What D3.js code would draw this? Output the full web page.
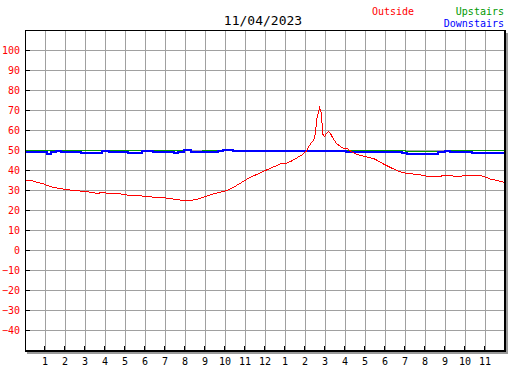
<!DOCTYPE html>
<html><head><meta charset="utf-8">
<script src="https://cdn.jsdelivr.net/npm/d3@7"></script>
<style>body{margin:0;background:#fff} svg{display:block}</style>
</head><body><svg id="c" width="527" height="370"></svg>
<script>
const title = "11/04/2023";
const seriesNames = ["Outside", "Upstairs", "Downstairs"];
const seriesColors = ["#ff0000", "#009900", "#0000ff"];
const xTickHours = [1,2,3,4,5,6,7,8,9,10,11,12,13,14,15,16,17,18,19,20,21,22,23];
const xTickLabels = ["1","2","3","4","5","6","7","8","9","10","11","12","1","2","3","4","5","6","7","8","9","10","11"];
const yTicks = [100,90,80,70,60,50,40,30,20,10,0,-10,-20,-30,-40];

const outsideHours = [0,0.3,0.55,0.85,1.1,1.35,1.6,1.85,2.25,2.65,3.0,3.35,3.6,3.8,4.05,4.4,4.75,5.1,5.5,5.9,6.25,6.55,6.75,7.0,7.35,7.75,8.15,8.45,8.65,8.9,9.15,9.45,9.75,10.05,10.3,10.55,10.8,11.1,11.4,11.75,12.1,12.45,12.75,13.1,13.35,13.6,13.85,14.05,14.2,14.3,14.4,14.5,14.55,14.63,14.7,14.78,14.83,14.88,14.95,15.05,15.15,15.25,15.35,15.45,15.55,15.7,15.85,16.1,16.25,16.5,16.75,17.1,17.4,17.6,17.85,18.15,18.5,18.75,19.0,19.4,19.75,20.0,20.4,20.85,21.25,21.65,21.9,22.75,23.0,23.25,23.6,23.95];
const outsideTemps = [35,35,34.2,33.5,32.5,31.7,31.2,30.8,30.2,29.8,29.5,29,28.5,29,28.7,28.3,28.3,27.7,27.5,27.2,26.8,26.5,26.7,26.3,25.8,25.2,25,25.3,25.8,26.7,27.5,28.5,29.2,30,31,32.5,34,35.8,37.3,38.8,40.5,42,43.3,43.8,45,46.5,48,49.8,52.5,54,55,58.5,65,68.5,71.5,69,63,57.5,57,58.5,59.5,58.5,56.5,55,53.5,52.3,51.3,51,49.7,48.3,47.5,46.7,46,45,43.5,42,40.3,39.3,38.7,38.2,37.8,37.3,36.8,37.3,37.5,36.8,37.5,37.5,36.7,35.7,35,34];

const upstairsHours = [0,8.25,8.85,19.0,21.0,24];
const upstairsTemps = [50,49.6,50,49.6,50,50];

const downstairsHours = [0,1.05,1.25,1.5,1.75,2.75,3.8,4.15,5.1,5.8,6.35,7.4,7.6,7.9,8.25,9.6,9.85,10.35,16.0,18.8,19.05,20.6,20.95,21.2,22.3,22.55,24];
const downstairsTemps = [49.1,48.5,49.1,50,49.2,48.7,50,49.2,48.7,50,49.3,48.9,49.3,50.4,49.5,49.8,50.4,49.7,49.1,48.8,48.5,49.2,50,49.3,48.7,48.9,48.9];

const FONT = "'DejaVu Sans Mono', monospace";
const svg = d3.select("#c");
const x = d3.scaleLinear().domain([0, 24]).range([25.5, 505.5]);
const y = d3.scaleLinear().domain([-50, 110]).range([350.5, 30.5]);

// shadow
svg.append("rect").attr("x", 506).attr("y", 33).attr("width", 2).attr("height", 321).attr("fill", "#999");
svg.append("rect").attr("x", 27).attr("y", 352).attr("width", 481).attr("height", 2).attr("fill", "#999");

const grid = svg.append("g").attr("stroke", "#a0a0a0").attr("stroke-width", 1).attr("shape-rendering", "crispEdges");
grid.selectAll("line.v").data(xTickHours).join("line")
  .attr("x1", d => x(d)).attr("x2", d => x(d)).attr("y1", 30).attr("y2", 350);
grid.selectAll("line.h").data(yTicks).join("line")
  .attr("y1", d => y(d)).attr("y2", d => y(d)).attr("x1", 25).attr("x2", 505);

// ticks
const tk = svg.append("g").attr("stroke", "#000").attr("shape-rendering", "crispEdges");
tk.selectAll("line.l").data(yTicks).join("line")
  .attr("x1", 25).attr("x2", 30).attr("y1", d => y(d)).attr("y2", d => y(d));
tk.selectAll("line.b").data(xTickHours).join("line")
  .attr("x1", d => x(d) - 1).attr("x2", d => x(d) - 1).attr("y1", 346).attr("y2", 350);

// series
const line = (curve) => d3.line().x(d => x(d[0])).y(d => y(d[1])).curve(curve);
const zip = (a, b) => a.map((v, i) => [v, b[i]]);
svg.append("path").datum(zip(upstairsHours, upstairsTemps))
  .attr("d", line(d3.curveStepAfter)).attr("fill", "none").attr("stroke", seriesColors[1])
  .attr("stroke-width", 1).attr("shape-rendering", "crispEdges");
svg.append("path").datum(zip(downstairsHours, downstairsTemps))
  .attr("d", line(d3.curveStepAfter)).attr("fill", "none").attr("stroke", seriesColors[2])
  .attr("stroke-width", 2).attr("shape-rendering", "crispEdges");
svg.append("path").datum(zip(outsideHours, outsideTemps))
  .attr("d", line(d3.curveLinear)).attr("fill", "none").attr("stroke", seriesColors[0])
  .attr("stroke-width", 1).attr("shape-rendering", "crispEdges");

// frame
const fr = svg.append("g").attr("stroke", "#000").attr("shape-rendering", "crispEdges");
fr.append("line").attr("x1", 25).attr("x2", 506).attr("y1", 30.5).attr("y2", 30.5);
fr.append("line").attr("x1", 25.5).attr("x2", 25.5).attr("y1", 30).attr("y2", 352);
fr.append("line").attr("x1", 25).attr("x2", 506).attr("y1", 351).attr("y2", 351).attr("stroke-width", 2);
fr.append("line").attr("x1", 505).attr("x2", 505).attr("y1", 30).attr("y2", 352).attr("stroke-width", 2);

// axes (labels)
const yAxis = svg.append("g").attr("transform", "translate(25,0)")
  .call(d3.axisLeft(y).tickValues(yTicks).tickSize(0).tickPadding(5));
yAxis.select(".domain").remove();
yAxis.selectAll("text").attr("fill", "#ff0000").style("font-family", FONT).style("font-size", "10px");

const xAxis = svg.append("g").attr("transform", "translate(-1,351)")
  .call(d3.axisBottom(x).tickValues(xTickHours).tickFormat((d, i) => xTickLabels[i]).tickSize(0).tickPadding(7));
xAxis.select(".domain").remove();
xAxis.selectAll("text").attr("fill", "#000").style("font-family", FONT).style("font-size", "10px");

// title & legend
svg.append("text").attr("x", 263).attr("y", 25).attr("text-anchor", "middle")
  .style("font-family", FONT).style("font-size", "13px").attr("fill", "#000").text(title);
svg.append("text").attr("x", 372).attr("y", 15).style("font-family", FONT).style("font-size", "10px")
  .attr("fill", seriesColors[0]).text(seriesNames[0]);
svg.append("text").attr("x", 504).attr("y", 15).attr("text-anchor", "end").style("font-family", FONT).style("font-size", "10px")
  .attr("fill", seriesColors[1]).text(seriesNames[1]);
svg.append("text").attr("x", 504).attr("y", 27).attr("text-anchor", "end").style("font-family", FONT).style("font-size", "10px")
  .attr("fill", seriesColors[2]).text(seriesNames[2]);
</script></body></html>
